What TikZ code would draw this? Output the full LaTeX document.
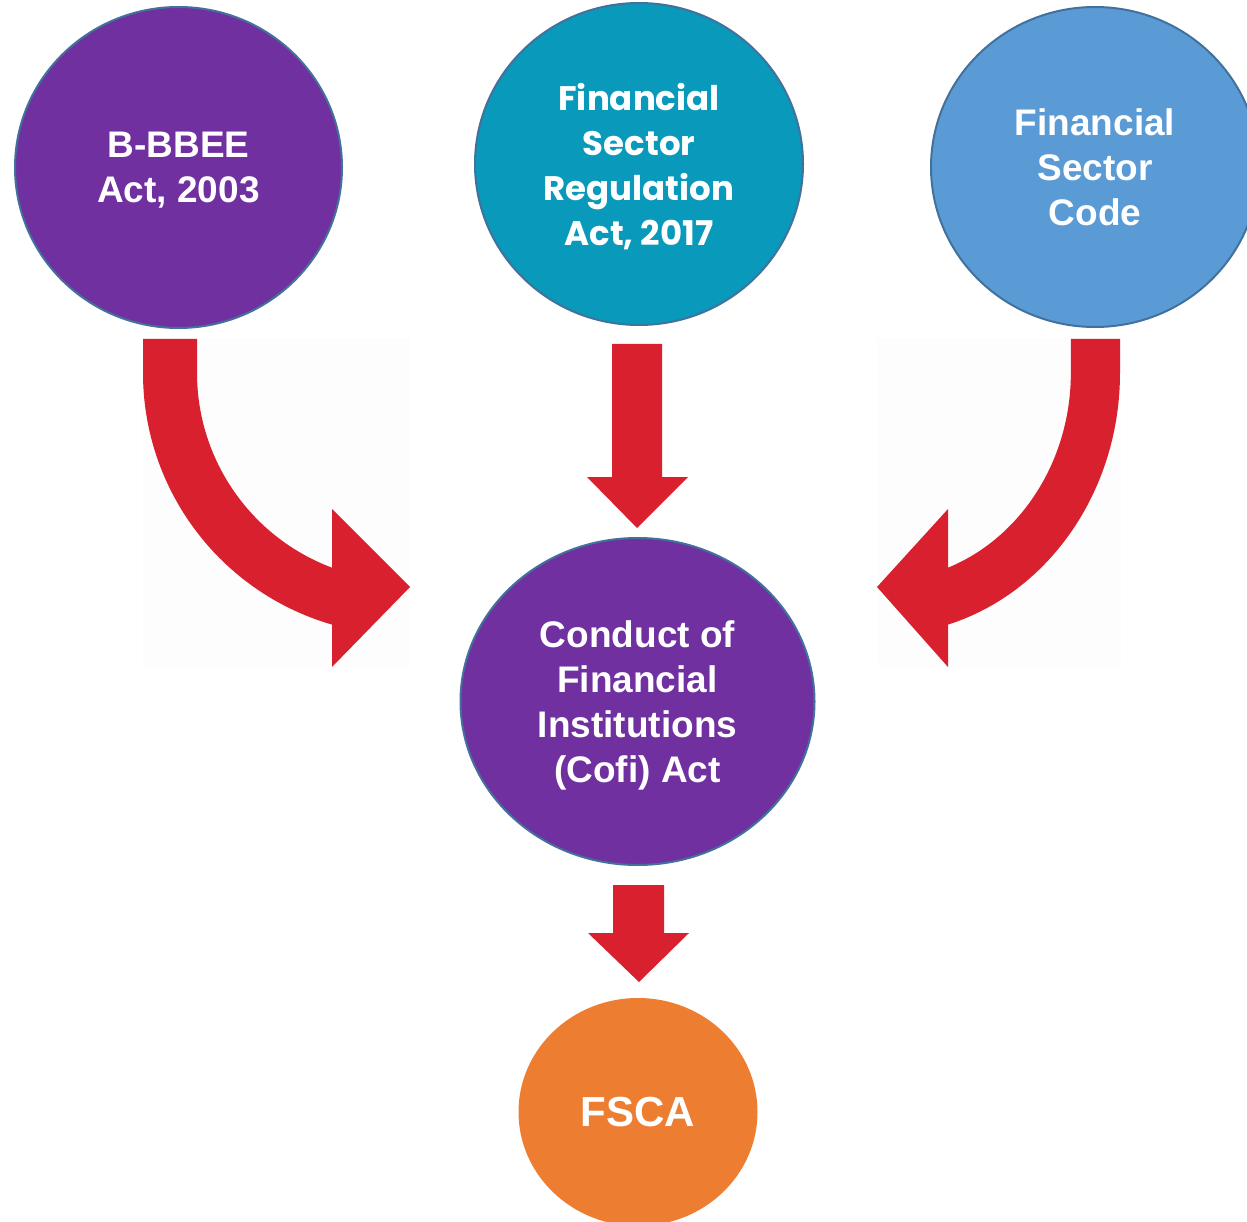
\documentclass[tikz,border=0pt]{standalone}
\usepackage{fontspec}
\setmainfont{Liberation Sans}
\newfontfamily\gothic{Poppins}
\usetikzlibrary{shapes.geometric}
\definecolor{cpurple}{HTML}{7030A0}
\definecolor{cteal}{HTML}{0899BB}
\definecolor{cblue}{HTML}{5B9BD5}
\definecolor{corange}{HTML}{ED7D31}
\definecolor{cline}{HTML}{41719C}
\definecolor{cred}{HTML}{D9202E}
\definecolor{cfaint}{HTML}{FDFDFD}
\tikzset{
  bubble/.style={ellipse, inner sep=0pt, draw=cline, line width=2pt, text=white, align=center,
    text depth=0pt, font=\fontsize{37}{45}\selectfont\bfseries},
  redarrow/.style={fill=cred, draw=none},
  curvearrow/.pic={
    \fill[redarrow] (-189,-339) -- (-189,-373)
      arc[start angle=180, end angle=253.82, radius=262]
      -- (0,-667) -- (78,-587) -- (0,-509) -- (0,-567.7)
      arc[start angle=249.45, end angle=180, radius=208]
      -- (-135,-339) -- cycle;
  },
}
\begin{document}
\begin{tikzpicture}[x=1pt,y=1pt]
\useasboundingbox (0,0) rectangle (1247,-1222);
% faint backgrounds behind curved arrows
\fill[cfaint] (143,-338) rectangle (410,-667);
\fill[cfaint] (877,-338) rectangle (1121,-667);
% nodes
\node[bubble, fill=cpurple, minimum width=327pt, minimum height=321pt] (bbbee) at (178.5,-167.5) {B-BBEE\\Act, 2003};
\node[bubble, fill=cteal, minimum width=328pt, minimum height=322pt,
  font=\gothic\fontsize{34}{45}\selectfont\bfseries] (fsra) at (639,-164) {Financial\\Sector\\Regulation\\Act, 2017};
\node[bubble, fill=cblue, minimum width=328pt, minimum height=320pt] (fsc) at (1095,-167) {Financial\\Sector\\Code};
\node[bubble, fill=cpurple, minimum width=354pt, minimum height=327pt] (cofi) at (637.5,-701.5) {Conduct of\\Financial\\Institutions\\(Cofi) Act};
\node[bubble, draw=none, fill=corange, minimum width=239pt, minimum height=228pt,
  font=\fontsize{42}{50}\selectfont\bfseries] (fsca) at (638,-1112) {FSCA};
% straight arrows
\fill[redarrow] (612,-344) -- (662,-344) -- (662,-477) -- (688,-477) -- (637,-528) -- (587,-477) -- (612,-477) -- cycle;
\fill[redarrow] (613,-885) -- (664,-885) -- (664,-933) -- (689,-933) -- (639,-982) -- (588,-933) -- (613,-933) -- cycle;
% curved arrows
\pic at (332,0) {curvearrow};
\pic[xscale=-0.91] at (948,0) {curvearrow};
\end{tikzpicture}
\end{document}
